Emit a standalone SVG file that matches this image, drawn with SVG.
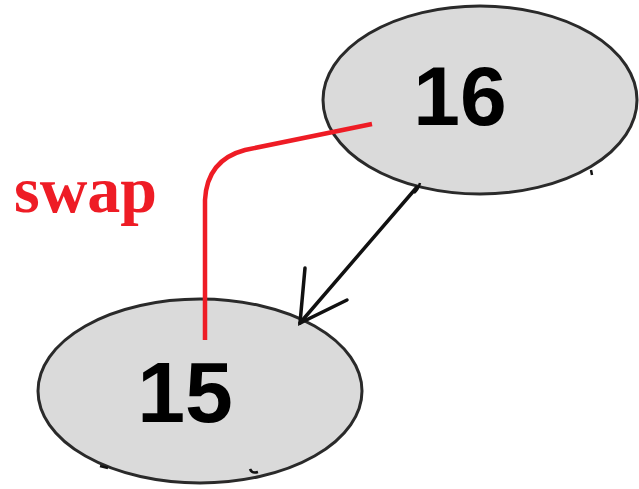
<svg xmlns="http://www.w3.org/2000/svg" width="639" height="489" viewBox="0 0 639 489">
  <style>
    .node ellipse { fill: #dadada; stroke: #2a2a2a; stroke-width: 3; }
    .node text { font-family: "Liberation Sans", Arial, sans-serif; font-weight: bold; fill: #000; text-anchor: middle; }
    .edge { fill: none; stroke: #111; stroke-width: 3.5; stroke-linecap: round; }
    .swap { fill: none; stroke: #ee1c25; stroke-width: 4.5; }
    .label { font-family: "Liberation Serif", "Times New Roman", serif; font-weight: bold; fill: #ee1c25; }
    .tick { fill: none; stroke: #111; stroke-width: 2.5; }
  </style>
  <rect width="639" height="489" fill="#ffffff"/>

  <g id="node-16" class="node">
    <ellipse cx="480" cy="100" rx="157" ry="94"/>
    <text x="460" y="125" font-size="84">16</text>
  </g>

  <g id="node-15" class="node">
    <ellipse cx="200" cy="391" rx="162" ry="92"/>
    <text x="185" y="422" font-size="86">15</text>
  </g>

  <g id="connectors">
    <!-- parent to child edge with open arrowhead -->
    <path class="edge" d="M417 187 L300 323"/>
    <path class="edge" d="M305 268 L300 323 L347 300"/>
    <!-- small stroke marks on the outlines -->
    <path class="tick" d="M420 183 Q418 190 414 193"/>
    <path class="tick" d="M591 170 L592 175"/>
    <path class="tick" d="M250 469 Q252 474 258 472"/>
    <path class="tick" d="M100 466 L108 468"/>
    <!-- swap indicator -->
    <path class="swap" d="M372 124 L245 150 Q207 160 205 200 L205 340"/>
  </g>

  <text class="label" x="14" y="212" font-size="66">swap</text>
</svg>
